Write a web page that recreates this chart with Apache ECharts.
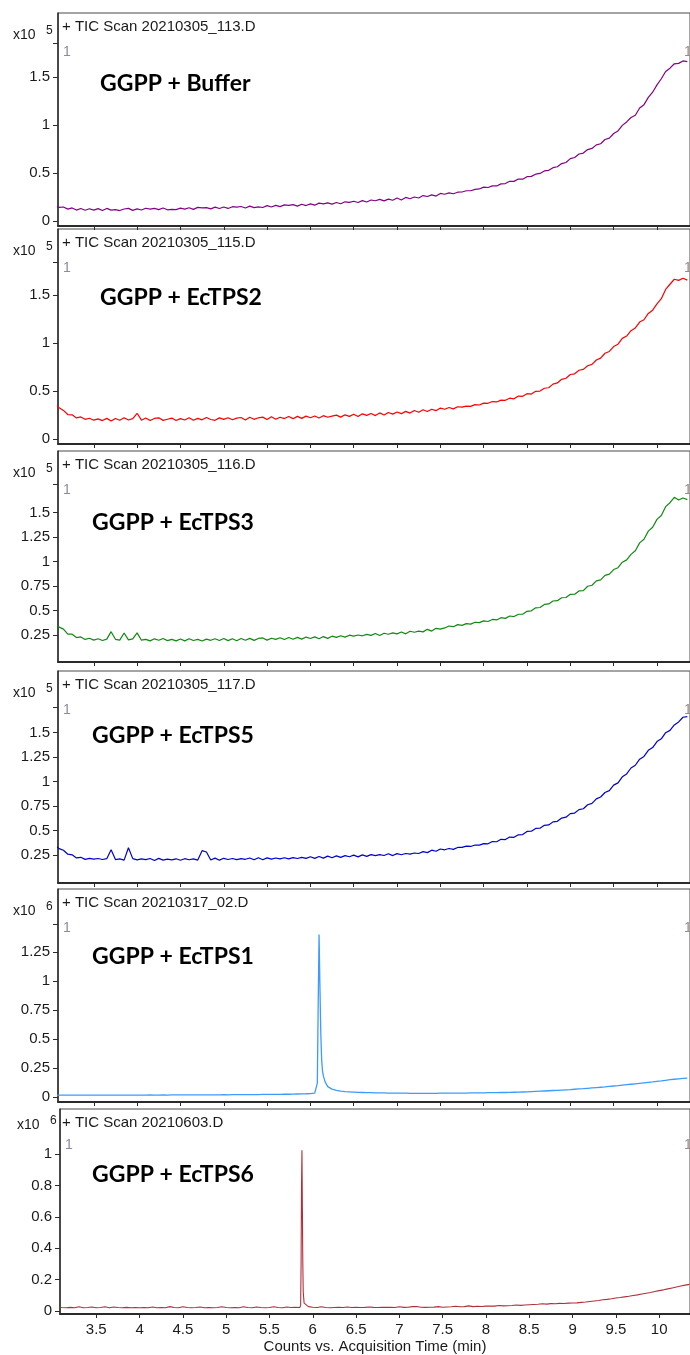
<!DOCTYPE html>
<html>
<head>
<meta charset="utf-8">
<title>TIC chromatograms – GGPP assays</title>
<script src="https://cdn.jsdelivr.net/npm/echarts@6/dist/echarts.min.js"></script>
<style>
  html, body { margin: 0; padding: 0; background: #ffffff; }
  #chart { width: 690px; height: 1355px; }
</style>
</head>
<body>
<div id="chart"></div>
<script>
// Retention time grid (min)
const timeGrid = [
  3.05,3.10,3.15,3.20,3.25,3.30,3.35,3.40,3.45,3.50,
  3.55,3.60,3.65,3.70,3.75,3.80,3.85,3.90,3.95,4.00,
  4.05,4.10,4.15,4.20,4.25,4.30,4.35,4.40,4.45,4.50,
  4.55,4.60,4.65,4.70,4.75,4.80,4.85,4.90,4.95,5.00,
  5.05,5.10,5.15,5.20,5.25,5.30,5.35,5.40,5.45,5.50,
  5.55,5.60,5.65,5.70,5.75,5.80,5.85,5.90,5.95,6.00,
  6.05,6.10,6.15,6.20,6.25,6.30,6.35,6.40,6.45,6.50,
  6.55,6.60,6.65,6.70,6.75,6.80,6.85,6.90,6.95,7.00,
  7.05,7.10,7.15,7.20,7.25,7.30,7.35,7.40,7.45,7.50,
  7.55,7.60,7.65,7.70,7.75,7.80,7.85,7.90,7.95,8.00,
  8.05,8.10,8.15,8.20,8.25,8.30,8.35,8.40,8.45,8.50,
  8.55,8.60,8.65,8.70,8.75,8.80,8.85,8.90,8.95,9.00,
  9.05,9.10,9.15,9.20,9.25,9.30,9.35,9.40,9.45,9.50,
  9.55,9.60,9.65,9.70,9.75,9.80,9.85,9.90,9.95,10.00,
  10.05,10.10,10.15,10.20,10.25,10.30,10.35
];

// TIC counts, x10^5
const ggppBuffer = [
  0.158,0.142,0.146,0.124,0.136,0.114,0.130,0.112,0.128,0.113,
  0.129,0.110,0.131,0.114,0.118,0.109,0.125,0.132,0.111,0.126,
  0.115,0.133,0.124,0.131,0.118,0.135,0.117,0.121,0.119,0.134,
  0.124,0.138,0.121,0.142,0.136,0.140,0.127,0.144,0.130,0.146,
  0.131,0.149,0.144,0.151,0.136,0.155,0.139,0.147,0.141,0.160,
  0.146,0.163,0.150,0.168,0.162,0.171,0.155,0.175,0.161,0.178,
  0.165,0.186,0.178,0.189,0.176,0.193,0.180,0.200,0.194,0.206,
  0.193,0.212,0.198,0.219,0.211,0.226,0.210,0.228,0.216,0.240,
  0.219,0.246,0.232,0.250,0.240,0.265,0.255,0.272,0.260,0.287,
  0.279,0.293,0.284,0.300,0.302,0.315,0.315,0.329,0.334,0.353,
  0.349,0.366,0.365,0.387,0.390,0.414,0.413,0.437,0.436,0.462,
  0.465,0.488,0.496,0.522,0.528,0.556,0.565,0.598,0.610,0.650,
  0.662,0.698,0.708,0.744,0.756,0.793,0.805,0.849,0.864,0.912,
  0.938,0.996,1.032,1.078,1.102,1.178,1.212,1.288,1.342,1.418,
  1.482,1.558,1.592,1.638,1.642,1.668,1.660
];
const ggppEcTPS2 = [
  0.365,0.325,0.298,0.255,0.252,0.220,0.230,0.205,0.216,0.196,
  0.210,0.192,0.215,0.188,0.214,0.196,0.222,0.198,0.212,0.268,
  0.196,0.219,0.192,0.214,0.221,0.194,0.206,0.218,0.193,0.212,
  0.198,0.222,0.195,0.215,0.200,0.224,0.203,0.195,0.220,0.204,
  0.222,0.200,0.218,0.224,0.198,0.226,0.205,0.221,0.228,0.204,
  0.231,0.206,0.227,0.213,0.234,0.212,0.236,0.215,0.238,0.222,
  0.240,0.219,0.243,0.227,0.238,0.249,0.228,0.252,0.236,0.258,
  0.235,0.262,0.246,0.265,0.244,0.272,0.250,0.276,0.259,0.282,
  0.264,0.288,0.270,0.297,0.279,0.305,0.286,0.310,0.295,0.322,
  0.310,0.328,0.314,0.336,0.332,0.342,0.340,0.358,0.354,0.374,
  0.372,0.390,0.386,0.405,0.403,0.425,0.419,0.447,0.445,0.472,
  0.468,0.497,0.499,0.529,0.534,0.572,0.584,0.622,0.633,0.672,
  0.679,0.716,0.725,0.763,0.778,0.823,0.843,0.893,0.912,0.963,
  0.988,1.048,1.072,1.128,1.157,1.218,1.242,1.308,1.342,1.408,
  1.462,1.558,1.612,1.664,1.652,1.674,1.655
];
const ggppEcTPS3 = [
  0.368,0.330,0.310,0.260,0.258,0.224,0.230,0.205,0.217,0.198,
  0.212,0.194,0.208,0.284,0.206,0.198,0.270,0.200,0.210,0.272,
  0.197,0.206,0.190,0.211,0.196,0.214,0.193,0.205,0.190,0.209,
  0.190,0.212,0.194,0.205,0.189,0.208,0.196,0.212,0.194,0.215,
  0.193,0.212,0.192,0.214,0.197,0.216,0.195,0.215,0.220,0.198,
  0.217,0.205,0.222,0.204,0.225,0.206,0.226,0.208,0.229,0.214,
  0.231,0.212,0.234,0.216,0.238,0.226,0.242,0.228,0.248,0.238,
  0.250,0.242,0.256,0.246,0.266,0.245,0.268,0.258,0.272,0.262,
  0.280,0.262,0.288,0.278,0.290,0.282,0.308,0.290,0.318,0.310,
  0.322,0.342,0.335,0.356,0.348,0.366,0.361,0.380,0.376,0.394,
  0.388,0.409,0.404,0.427,0.420,0.444,0.438,0.462,0.462,0.492,
  0.497,0.527,0.531,0.562,0.567,0.597,0.600,0.630,0.633,0.665,
  0.667,0.700,0.703,0.748,0.758,0.803,0.813,0.858,0.872,0.918,
  0.937,0.993,1.017,1.073,1.110,1.190,1.228,1.310,1.350,1.430,
  1.470,1.560,1.600,1.655,1.628,1.648,1.632
];
const ggppEcTPS5 = [
  0.348,0.315,0.298,0.258,0.252,0.220,0.226,0.205,0.216,0.207,
  0.214,0.204,0.212,0.304,0.203,0.211,0.198,0.324,0.213,0.200,
  0.211,0.202,0.214,0.194,0.215,0.197,0.207,0.200,0.211,0.196,
  0.212,0.201,0.210,0.198,0.294,0.280,0.198,0.218,0.197,0.216,
  0.204,0.214,0.202,0.213,0.206,0.219,0.201,0.222,0.202,0.220,
  0.208,0.219,0.210,0.222,0.211,0.223,0.214,0.226,0.216,0.232,
  0.215,0.235,0.218,0.238,0.222,0.241,0.226,0.243,0.232,0.248,
  0.231,0.251,0.236,0.254,0.243,0.253,0.245,0.262,0.244,0.264,
  0.252,0.265,0.259,0.270,0.265,0.284,0.274,0.299,0.288,0.311,
  0.303,0.316,0.307,0.327,0.327,0.340,0.337,0.352,0.350,0.366,
  0.364,0.387,0.385,0.410,0.407,0.433,0.430,0.456,0.458,0.490,
  0.492,0.521,0.523,0.553,0.557,0.588,0.594,0.627,0.636,0.672,
  0.678,0.713,0.722,0.763,0.777,0.823,0.842,0.888,0.907,0.963,
  0.986,1.048,1.077,1.138,1.166,1.228,1.256,1.318,1.346,1.408,
  1.436,1.498,1.522,1.578,1.608,1.656,1.662
];

// TIC counts, x10^6
const ggppEcTPS1 = [
  0.017,0.016,0.016,0.017,0.016,0.016,0.017,0.016,0.016,0.017,
  0.016,0.017,0.016,0.016,0.017,0.017,0.016,0.017,0.017,0.017,
  0.017,0.017,0.018,0.017,0.017,0.018,0.017,0.018,0.018,0.018,
  0.018,0.018,0.018,0.019,0.018,0.019,0.019,0.019,0.019,0.020,
  0.019,0.020,0.020,0.020,0.021,0.020,0.021,0.021,0.022,0.022,
  0.022,0.023,0.023,0.024,0.024,0.025,0.026,0.027,0.028,0.030,
  0.033,1.400,0.180,0.090,0.068,0.058,0.050,0.046,0.044,0.042,
  0.040,0.039,0.038,0.037,0.036,0.035,0.035,0.034,0.034,0.033,
  0.033,0.033,0.032,0.032,0.032,0.032,0.032,0.032,0.032,0.033,
  0.033,0.033,0.033,0.034,0.034,0.034,0.035,0.035,0.036,0.036,
  0.037,0.037,0.038,0.039,0.039,0.040,0.041,0.042,0.043,0.044,
  0.046,0.048,0.050,0.052,0.054,0.056,0.058,0.060,0.062,0.064,
  0.067,0.070,0.072,0.075,0.078,0.081,0.084,0.087,0.091,0.095,
  0.098,0.102,0.106,0.110,0.114,0.118,0.122,0.126,0.130,0.135,
  0.139,0.144,0.149,0.153,0.157,0.160,0.163
];
const ectps1PeakTimes  = [6.07, 6.08, 6.09, 6.11, 6.12, 6.13, 6.14, 6.17];
const ectps1PeakValues = [0.036, 0.120, 0.800, 0.950, 0.550, 0.320, 0.220, 0.130];

const ggppEcTPS6 = [
  0.024,0.022,0.021,0.023,0.021,0.027,0.021,0.022,0.026,0.021,
  0.022,0.027,0.021,0.026,0.022,0.021,0.023,0.021,0.022,0.021,
  0.022,0.021,0.026,0.021,0.022,0.021,0.028,0.022,0.021,0.027,
  0.022,0.021,0.022,0.026,0.021,0.022,0.021,0.022,0.027,0.022,
  0.021,0.022,0.021,0.027,0.022,0.021,0.026,0.022,0.021,0.022,
  0.027,0.022,0.021,0.026,0.022,0.023,0.022,0.050,0.028,0.024,
  0.022,0.027,0.022,0.021,0.022,0.023,0.022,0.026,0.022,0.023,
  0.022,0.023,0.026,0.023,0.022,0.023,0.024,0.023,0.022,0.027,
  0.023,0.024,0.028,0.029,0.024,0.023,0.024,0.025,0.028,0.024,
  0.026,0.027,0.030,0.027,0.028,0.033,0.028,0.030,0.029,0.031,
  0.032,0.031,0.035,0.033,0.034,0.035,0.038,0.036,0.038,0.040,
  0.042,0.043,0.046,0.044,0.047,0.046,0.049,0.048,0.050,0.051,
  0.052,0.055,0.057,0.061,0.064,0.067,0.072,0.074,0.078,0.083,
  0.086,0.090,0.094,0.099,0.103,0.108,0.113,0.118,0.124,0.130,
  0.135,0.141,0.147,0.153,0.159,0.165,0.170
];
const ectps6PeakTimes  = [5.86, 5.865, 5.87, 5.875, 5.88, 5.885, 5.89];
const ectps6PeakValues = [0.035, 0.300, 0.800, 1.025, 0.650, 0.300, 0.120];

// Axis ticks
const timeTicks = [3.5,4,4.5,5,5.5,6,6.5,7,7.5,8,8.5,9,9.5,10];
const halfTicks = [0,0.5,1,1.5];
const quarterTicks = [0.25,0.5,0.75,1,1.25,1.5];
const quarterTicksFromZero = [0,0.25,0.5,0.75,1,1.25];
const fifthTicks = [0,0.2,0.4,0.6,0.8,1];

// Panel texts
const fileNames = [
  '+ TIC Scan 20210305_113.D',
  '+ TIC Scan 20210305_115.D',
  '+ TIC Scan 20210305_116.D',
  '+ TIC Scan 20210305_117.D',
  '+ TIC Scan 20210317_02.D',
  '+ TIC Scan 20210603.D'
];
const sampleNames = [
  'GGPP + Buffer',
  'GGPP + EcTPS2',
  'GGPP + EcTPS3',
  'GGPP + EcTPS5',
  'GGPP + EcTPS1',
  'GGPP + EcTPS6'
];
const exponents = ['5','5','5','5','6','6'];
const xAxisTitle = 'Counts vs. Acquisition Time (min)';

// ---- build line data ----
function pairs(values, extraTimes, extraValues) {
  const out = timeGrid.map((t, i) => [t, values[i]]);
  if (extraTimes) {
    extraTimes.forEach((t, i) => out.push([t, extraValues[i]]));
    out.sort((a, b) => a[0] - b[0]);
  }
  return out;
}

const traces = [
  { data: pairs(ggppBuffer), color: '#860086', width: 1.2 },
  { data: pairs(ggppEcTPS2), color: '#ff0000', width: 1.2 },
  { data: pairs(ggppEcTPS3), color: '#108a10', width: 1.2 },
  { data: pairs(ggppEcTPS5), color: '#0000d0', width: 1.2 },
  { data: pairs(ggppEcTPS1, ectps1PeakTimes, ectps1PeakValues), color: '#3d9bff', width: 1.3 },
  { data: pairs(ggppEcTPS6, ectps6PeakTimes, ectps6PeakValues), color: '#b0303a', width: 1.1 }
];

// ---- panel layout ----
const panels = [
  { top: 13,   height: 213, left: 58, xMin: 3.087, xMax: 10.381, yMin: -0.052, yMax: 2.167,  labels: halfTicks,            topTick: 1.85, labelX: 100, labelDy: 71 },
  { top: 229,  height: 215, left: 58, xMin: 3.087, xMax: 10.381, yMin: -0.052, yMax: 2.1875, labels: halfTicks,            topTick: 1.84, labelX: 100, labelDy: 69 },
  { top: 451,  height: 211, left: 58, xMin: 3.087, xMax: 10.381, yMin: -0.0255,yMax: 2.128,  labels: quarterTicks,         topTick: 1.79, labelX: 92,  labelDy: 72 },
  { top: 671,  height: 212, left: 58, xMin: 3.087, xMax: 10.381, yMin: -0.036, yMax: 2.128,  labels: quarterTicks,         topTick: 1.76, labelX: 92,  labelDy: 65 },
  { top: 889,  height: 213, left: 58, xMin: 3.087, xMax: 10.381, yMin: -0.043, yMax: 1.793,  labels: quarterTicksFromZero, topTick: 1.49, labelX: 92,  labelDy: 68 },
  { top: 1109, height: 209, left: 60, xMin: 3.081, xMax: 10.356, yMin: -0.019, yMax: 1.2875, labels: fifthTicks,           topTick: null, labelX: 92,  labelDy: 66 }
];

const axisFont = 'Liberation Sans, Arial, sans-serif';
const textColor = '#1a1a1a';

const grid = [], xAxis = [], yAxis = [], series = [], graphic = [];

panels.forEach((p, i) => {
  const last = i === panels.length - 1;
  grid.push({
    left: p.left, top: p.top, height: p.height, width: 694 - p.left,
    show: true, borderColor: '#4a4a4a', borderWidth: 1, containLabel: false
  });
  xAxis.push({
    type: 'value', gridIndex: i, min: p.xMin, max: p.xMax,
    splitLine: { show: false },
    axisLine: { show: true, onZero: false, lineStyle: { color: '#2a2a2a', width: 2 } },
    axisTick: { show: true, inside: false, length: 4, customValues: timeTicks, lineStyle: { color: '#2a2a2a', width: 1 } },
    axisLabel: { show: last, customValues: timeTicks, fontSize: 15, color: textColor, fontFamily: axisFont, margin: 8 },
    name: last ? xAxisTitle : '',
    nameLocation: 'middle', nameGap: 25,
    nameTextStyle: { fontSize: 15, color: textColor, fontFamily: axisFont }
  });
  const tickVals = p.topTick != null ? p.labels.concat([p.topTick]) : p.labels;
  yAxis.push({
    type: 'value', gridIndex: i, min: p.yMin, max: p.yMax,
    splitLine: { show: false },
    axisLine: { show: true, onZero: false, lineStyle: { color: '#2a2a2a', width: 1.5 } },
    axisTick: { show: true, inside: false, length: 5, customValues: tickVals, lineStyle: { color: '#2a2a2a', width: 1 } },
    axisLabel: { customValues: p.labels, fontSize: 15, color: textColor, fontFamily: axisFont, margin: 8 }
  });
  series.push({
    type: 'line', xAxisIndex: i, yAxisIndex: i,
    data: traces[i].data, showSymbol: false, symbol: 'none',
    lineStyle: { color: traces[i].color, width: traces[i].width },
    itemStyle: { color: traces[i].color },
    animation: false, silent: true, clip: true
  });

  // file name inside the frame
  graphic.push({
    type: 'text', x: 62, y: p.top + 14,
    style: { text: fileNames[i], font: '15px ' + axisFont, fill: textColor, verticalAlign: 'middle', align: 'left' }
  });
  // scale factor "x10^n"
  const expY = i === 5 ? p.top + 16 : p.top + 22;
  const expX = i === 5 ? 17 : 13;
  graphic.push({
    type: 'text', x: expX, y: expY,
    style: { text: 'x10', font: '14px ' + axisFont, fill: textColor, verticalAlign: 'middle', align: 'left' }
  });
  graphic.push({
    type: 'text', x: expX + 33, y: expY - 4,
    style: { text: exponents[i], font: '12px ' + axisFont, fill: textColor, verticalAlign: 'middle', align: 'left' }
  });
  // trace markers
  const markY = p.top + (i === 5 ? 36 : 39);
  graphic.push({
    type: 'text', x: p.left + 5, y: markY,
    style: { text: '1', font: '14px ' + axisFont, fill: '#8a8c9c', verticalAlign: 'middle', align: 'left' }
  });
  graphic.push({
    type: 'text', x: 684, y: markY,
    style: { text: '1', font: '14px ' + axisFont, fill: '#9c8a86', verticalAlign: 'middle', align: 'left' }
  });
  // sample label
  graphic.push({
    type: 'text', x: p.labelX, y: p.top + p.labelDy,
    style: { text: sampleNames[i], font: 'bold 23px Lato, "Open Sans", sans-serif', fill: '#000000', verticalAlign: 'middle', align: 'left' }
  });
});

const chart = echarts.init(document.getElementById('chart'), null, { renderer: 'canvas' });
chart.setOption({
  backgroundColor: '#ffffff',
  animation: false,
  grid, xAxis, yAxis, series, graphic
});
</script>
</body>
</html>
